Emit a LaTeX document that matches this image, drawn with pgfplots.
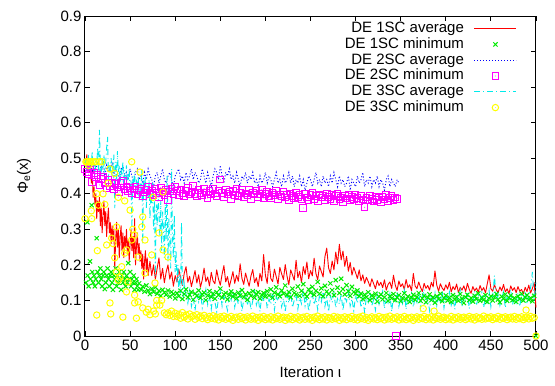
\documentclass[border=0pt]{standalone}
\usepackage{pgfplots}
\pgfplotsset{compat=1.18}
\usepackage{fontspec}
\setmainfont{Liberation Sans}
\definecolor{gpred}{RGB}{255,0,0}
\definecolor{gpgreen}{RGB}{0,235,0}
\definecolor{gpblue}{RGB}{0,0,255}
\definecolor{gpmag}{RGB}{255,0,255}
\definecolor{gpcyan}{RGB}{0,235,235}
\definecolor{gpyellow}{RGB}{255,255,0}
\pgfdeclareplotmark{odot}{%
  \pgfpathcircle{\pgfpointorigin}{\pgfplotmarksize}\pgfusepathqstroke
  \pgfpathcircle{\pgfpointorigin}{0.45pt}\pgfusepathqfill}
\pgfdeclareplotmark{sqdot}{%
  \pgfpathrectangle{\pgfpoint{-\pgfplotmarksize}{-\pgfplotmarksize}}{\pgfpoint{2\pgfplotmarksize}{2\pgfplotmarksize}}\pgfusepathqstroke
  \pgfpathcircle{\pgfpointorigin}{0.45pt}\pgfusepathqfill}
\pgfplotsset{mylegend/.style={legend image code/.code={\draw[mark repeat=2,mark phase=2,##1] plot coordinates {(0pt,0pt) (21pt,0pt) (42pt,0pt)};}}}
\begin{document}
\begin{tikzpicture}[font=\fontsize{15}{17}\selectfont]
\useasboundingbox (-85pt,-50pt) rectangle (470pt,336pt);
\begin{axis}[
  at={(0pt,0pt)}, anchor=south west,
  scale only axis, width=451pt, height=320pt,
  xmin=0, xmax=500, ymin=0, ymax=0.9,
  xtick={0,50,100,150,200,250,300,350,400,450,500},
  ytick={0,0.1,0.2,0.3,0.4,0.5,0.6,0.7,0.8,0.9},
  yticklabel style={/pgf/number format/fixed,/pgf/number format/precision=1},
  /pgf/number format/assume math mode=true,
  tick align=inside, major tick length=5pt,
  every tick/.style={black, line width=0.8pt},
  axis line style={black, line width=1pt},
  clip=false,
  xlabel={Iteration ι},
  xlabel style={at={(axis description cs:0.5,-0.1125)}, anchor=center},
  ylabel={Φ\textsubscript{e}(x)},
  ylabel style={at={(axis description cs:-0.135,0.5)}, anchor=center},
  legend cell align=right, legend plot pos=right,
  legend style={at={(0.958,0.986)}, anchor=north east, draw=none, fill=none,
    inner sep=0pt, column sep=9pt, row sep=0pt,
    nodes={inner sep=1pt, text height=10.8pt, text depth=3pt},
    font=\fontsize{15}{16}\selectfont},
]
% DE 1SC average
\addplot[color=gpred, line width=0.9pt, line join=round, mylegend] coordinates {
(0,0.50) (1,0.48) (2,0.51) (3,0.47) (4,0.50) (5,0.46) (6,0.49) (7,0.43) (8,0.47) (9,0.39)
(10,0.42) (11,0.37) (12,0.40) (13,0.33) (14,0.38) (15,0.35) (16,0.39) (17,0.31) (18,0.36) (19,0.29)
(20,0.34) (21,0.38) (22,0.31) (23,0.35) (24,0.28) (25,0.33) (26,0.36) (27,0.29) (28,0.32) (29,0.26)
(30,0.31) (31,0.27) (32,0.30) (33,0.19) (34,0.27) (35,0.32) (36,0.25) (37,0.30) (38,0.22) (39,0.28)
(40,0.31) (41,0.24) (42,0.29) (43,0.22) (44,0.28) (45,0.25) (46,0.30) (47,0.23) (48,0.27) (49,0.21)
(50,0.26) (51,0.30) (52,0.24) (53,0.28) (54,0.22) (55,0.33) (56,0.20) (57,0.25) (58,0.29) (59,0.23)
(60,0.26) (61,0.21) (62,0.24) (63,0.19) (64,0.23) (65,0.16) (66,0.21) (67,0.24) (68,0.18) (69,0.22)
(70,0.17) (72,0.21) (74,0.17) (76,0.20) (78,0.16) (80,0.19) (82,0.22) (84,0.16) (86,0.19) (88,0.15)
(90,0.18) (92,0.20) (94,0.16) (96,0.18) (98,0.14)
(100,.170) (102,.152) (104,.188) (106,.163) (108,.142) (110,.176) (112,.195) (114,.151) (116,.168) (118,.139)
(120,.161) (122,.184) (124,.149) (126,.172) (128,.137) (130,.158) (132,.191) (134,.153) (136,.166) (138,.141)
(140,.179) (142,.155) (144,.147) (146,.186) (148,.160) (150,.143) (152,.174) (154,.198) (156,.152) (158,.167)
(160,.138) (162,.159) (164,.181) (166,.148) (168,.171) (170,.154) (172,.203) (174,.162) (176,.145) (178,.177)
(180,.158) (182,.140) (184,.169) (186,.187) (188,.150) (190,.164) (192,.139) (194,.176) (196,.155) (198,.229)
(200,.171) (202,.148) (204,.210) (206,.162) (208,.153) (210,.188) (212,.167) (214,.146) (216,.193) (218,.175)
(220,.159) (222,.201) (224,.168) (226,.144) (228,.186) (230,.172) (232,.157) (234,.213) (236,.164) (238,.182)
(240,.150) (242,.195) (244,.173) (246,.208) (248,.161) (250,.184) (252,.169) (254,.219) (256,.176) (258,.158)
(260,.197) (262,.181) (264,.166) (266,.223) (268,.247) (270,.192) (272,.176) (274,.211) (276,.186) (278,.236)
(280,.203) (282,.258) (284,.214) (286,.239) (288,.196) (290,.224) (292,.182) (294,.207) (296,.171) (298,.193)
(300,.178) (302,.162) (304,.186) (306,.155) (308,.172) (310,.148) (312,.165) (314,.153) (316,.139) (318,.161)
(320,.147) (322,.133) (324,.156) (326,.142) (328,.151) (330,.136) (332,.158) (334,.129) (336,.145) (338,.152)
(340,.134) (342,.171) (344,.143) (346,.128) (348,.155) (350,.139) (352,.147) (354,.131) (356,.159) (358,.136)
(360,.144) (362,.127) (364,.176) (366,.141) (368,.133) (370,.152) (372,.137) (374,.125) (376,.148) (378,.134)
(380,.142) (382,.129) (384,.151) (386,.138) (388,.183) (390,.143) (392,.126) (394,.147) (396,.135) (398,.128)
(400,.144) (402,.132) (404,.151) (406,.124) (408,.139) (410,.130) (412,.146) (414,.122) (416,.137) (418,.129)
(420,.141) (422,.125) (424,.148) (426,.131) (428,.120) (430,.139) (432,.127) (434,.135) (436,.123) (438,.142)
(440,.128) (442,.136) (444,.121) (446,.147) (448,.172) (450,.133) (452,.126) (454,.144) (456,.130) (458,.122)
(460,.138) (462,.127) (464,.145) (466,.124) (468,.133) (470,.119) (472,.141) (474,.128) (476,.136) (478,.122)
(480,.139) (482,.126) (484,.131) (486,.118) (488,.137) (490,.125) (492,.143) (494,.121) (496,.134) (498,.150)
(500,.080)
};
\addlegendentry{DE 1SC average}
% DE 1SC minimum
\addplot[only marks, color=gpgreen, mark=x, mark size=3pt, mark options={line width=1pt}, mylegend] coordinates {
(1,0.15) (2.6,0.32) (3,0.17) (4,0.14) (5.5,0.21) (6,0.16) (7.4,0.368) (8,0.18) (9,0.15) (10,0.17)
(11,0.14) (12,0.16) (13,0.275) (14,0.18) (15,0.15) (16,0.17) (17,0.19) (18,0.16) (19,0.14) (20,0.17)
(21,0.18) (22,0.132) (23,0.15) (24,0.17) (25,0.19) (26,0.16) (27,0.14) (28,0.17) (29,0.18) (30,0.15)
(31,0.13) (32,0.17) (33,0.16) (34,0.19) (35,0.14) (36,0.17) (37,0.15) (38,0.18) (39,0.16) (40,0.13)
(41,0.17) (42,0.15) (43,0.18) (44,0.16) (45,0.14) (46,0.17) (47,0.15) (48,0.205) (49,0.16) (50,0.18)
(51,0.14) (52,0.16) (53,0.15) (54,0.17) (55,0.13) (56,0.15) (57,0.16) (58,0.14) (59,0.13)
(60,.148) (62,.131) (64,.139) (66,.125) (68,.142) (70,.128) (72,.118) (74,.133) (76,.124) (78,.137)
(80,.119) (82,.127) (84,.113) (86,.130) (88,.122) (90,.116) (92,.128) (94,.111) (96,.124) (98,.118)
(100,.106) (102,.121) (104,.112) (106,.127) (108,.104) (110,.118) (112,.131) (114,.109) (116,.116) (118,.124)
(120,.102) (122,.119) (124,.113) (126,.128) (128,.107) (130,.117) (132,.122) (134,.101) (136,.114) (138,.126)
(140,.110) (142,.119) (144,.105) (146,.123) (148,.115) (150,.133) (152,.108) (154,.117) (156,.121) (158,.103)
(160,.116) (162,.125) (164,.111) (166,.118) (168,.106) (170,.122) (172,.114) (174,.129) (176,.109) (178,.117)
(180,.102) (182,.120) (184,.113) (186,.126) (188,.108) (190,.118) (192,.123) (194,.105) (196,.116) (198,.121)
(200,.111) (202,.126) (204,.114) (206,.131) (208,.108) (210,.122) (212,.137) (214,.117) (216,.112) (218,.128)
(220,.119) (222,.142) (224,.115) (226,.124) (228,.109) (230,.133) (232,.121) (234,.117) (236,.139) (238,.113)
(240,.127) (242,.146) (244,.118) (246,.111) (248,.131) (250,.122) (252,.138) (254,.116) (256,.127) (258,.152)
(260,.119) (262,.134) (264,.112) (266,.141) (268,.125) (270,.118) (272,.148) (274,.129) (276,.115) (278,.157)
(280,.136) (282,.121) (284,.161) (286,.132) (288,.117) (290,.143) (292,.126) (294,.113) (296,.138) (298,.124)
(300,.119) (302,.128) (304,.112) (306,.119) (308,.104) (310,.116) (312,.109) (314,.123) (316,.101) (318,.114)
(320,.108) (322,.119) (324,.097) (326,.111) (328,.117) (330,.103) (332,.109) (334,.121) (336,.099) (338,.112)
(340,.106) (342,.118) (344,.101) (346,.109) (348,.115) (350,.098) (352,.107) (354,.120) (356,.103) (358,.111)
(360,.096) (362,.108) (364,.116) (366,.102) (368,.110) (370,.121) (372,.099) (374,.106) (376,.113) (378,.095)
(380,.108) (382,.117) (384,.101) (386,.109) (388,.094) (390,.112) (392,.104) (394,.119) (396,.098) (398,.107)
(400,.114) (402,.100) (404,.108) (406,.096) (408,.115) (410,.103) (412,.110) (414,.099) (416,.118) (418,.105)
(420,.093) (422,.109) (424,.116) (426,.101) (428,.107) (430,.097) (432,.113) (434,.104) (436,.120) (438,.099)
(440,.108) (442,.102) (444,.115) (446,.096) (448,.106) (450,.112) (452,.100) (454,.109) (456,.118) (458,.103)
(460,.095) (462,.111) (464,.105) (466,.117) (468,.099) (470,.108) (472,.114) (474,.101) (476,.107) (478,.096)
(480,.112) (482,.104) (484,.119) (486,.100) (488,.109) (490,.115) (492,.102) (494,.107) (496,.098) (498,.113)
(500,0)
};
\addlegendentry{DE 1SC minimum}
% DE 2SC average
\addplot[color=gpblue, line width=0.9pt, dash pattern=on 1pt off 2pt, mylegend] coordinates {
(0,.48) (2,.47) (4,.49) (6,.48) (8,.46) (10,.48) (12,.47) (14,.49) (16,.46) (18,.48)
(20,.47) (22,.45) (24,.48) (26,.46) (28,.47) (30,.49) (32,.45) (34,.47) (36,.46) (38,.44)
(40,.47) (42,.48) (44,.45) (46,.46) (48,.44) (50,.47) (52,.45) (54,.43) (56,.46) (58,.47)
(60,.44) (62,.45) (64,.43) (66,.46) (68,.44) (70,.47) (72,.45) (74,.44) (76,.42) (78,.45)
(80,.46) (82,.43) (84,.45) (86,.47) (88,.44) (90,.43) (92,.45) (94,.46) (96,.44) (98,.42)
(100,.45) (102,.46) (104,.47) (106,.44) (108,.45) (110,.43) (112,.46) (114,.44) (116,.45) (118,.47)
(120,.44) (122,.46) (124,.45) (126,.43) (128,.44) (130,.47) (132,.45) (134,.43) (136,.46) (138,.44)
(140,.42) (142,.45) (144,.47) (146,.46) (148,.44) (150,.48) (152,.45) (154,.43) (156,.46) (158,.45)
(160,.47) (162,.44) (164,.45) (166,.43) (168,.46) (170,.44) (172,.42) (174,.45) (176,.44) (178,.46)
(180,.43) (182,.45) (184,.44) (186,.46) (188,.43) (190,.44) (192,.42) (194,.45) (196,.43) (198,.44)
(200,.46) (202,.43) (204,.45) (206,.44) (208,.42) (210,.44) (212,.46) (214,.43) (216,.44) (218,.42)
(220,.45) (222,.43) (224,.44) (226,.46) (228,.43) (230,.45) (232,.42) (234,.44) (236,.43) (238,.45)
(240,.42) (242,.44) (244,.41) (246,.43) (248,.45) (250,.44) (252,.42) (254,.44) (256,.46) (258,.43)
(260,.44) (262,.42) (264,.45) (266,.43) (268,.44) (270,.42) (272,.45) (274,.43) (276,.46) (278,.44)
(280,.42) (282,.45) (284,.43) (286,.44) (288,.42) (290,.43) (292,.45) (294,.41) (296,.44) (298,.43)
(300,.42) (302,.45) (304,.43) (306,.44) (308,.46) (310,.42) (312,.44) (314,.43) (316,.45) (318,.42)
(320,.44) (322,.43) (324,.45) (326,.42) (328,.44) (330,.43) (332,.41) (334,.44) (336,.45) (338,.42)
(340,.44) (342,.43) (344,.42) (346,.44) (348,.43)
};
\addlegendentry{DE 2SC average}
% DE 2SC minimum
\addplot[only marks, color=gpmag, mark=sqdot, mark size=3.3pt, mark options={line width=1pt}, mylegend] coordinates {
(0,.470) (2,.462) (4,.455) (6,.468) (8,.433) (10,.458) (12,.447) (14,.452) (16,.425) (18,.441)
(20,.449) (22,.430) (24,.415) (26,.438) (28,.421) (30,.432) (32,.412) (34,.427) (36,.418) (38,.405)
(40,.430) (42,.436) (44,.412) (46,.420) (48,.408) (50,.416) (52,.402) (54,.412) (56,.421) (58,.398)
(60,.409) (62,.415) (64,.393) (66,.404) (68,.411) (70,.420) (72,.400) (74,.407) (76,.396) (78,.413)
(80,.402) (82,.389) (84,.418) (86,.405) (88,.397) (90,.410) (92,.383) (94,.406) (96,.414) (98,.399)
(100,.421) (102,.408) (104,.395) (106,.412) (108,.401) (110,.393) (112,.409) (114,.417) (116,.398) (118,.405)
(120,.422) (122,.400) (124,.392) (126,.411) (128,.403) (130,.396) (132,.415) (134,.404) (136,.388) (138,.407)
(140,.398) (142,.413) (144,.401) (146,.394) (148,.409) (150,.440) (152,.403) (154,.391) (156,.412) (158,.399)
(160,.405) (162,.386) (164,.408) (166,.397) (168,.414) (170,.393) (172,.402) (174,.410) (176,.389) (178,.401)
(180,.396) (182,.411) (184,.384) (186,.403) (188,.398) (190,.407) (192,.391) (194,.400) (196,.412) (198,.388)
(200,.399) (202,.405) (204,.392) (206,.387) (208,.403) (210,.396) (212,.409) (214,.385) (216,.398) (218,.392)
(220,.406) (222,.389) (224,.397) (226,.383) (228,.401) (230,.394) (232,.388) (234,.404) (236,.391) (238,.396)
(240,.385) (242,.360) (244,.399) (246,.390) (248,.382) (250,.397) (252,.402) (254,.386) (256,.393) (258,.379)
(260,.398) (262,.389) (264,.395) (266,.383) (268,.401) (270,.391) (272,.386) (274,.396) (276,.380) (278,.393)
(280,.399) (282,.384) (284,.390) (286,.376) (288,.394) (290,.387) (292,.398) (294,.382) (296,.391) (298,.385)
(300,.396) (302,.388) (304,.379) (306,.393) (308,.384) (310,.362) (312,.390) (314,.381) (316,.395) (318,.386)
(320,.378) (322,.392) (324,.383) (326,.389) (328,.375) (330,.391) (332,.384) (334,.396) (336,.380) (338,.388)
(340,.393) (342,.382) (344,.390) (346,.386) (345,0)
};
\addlegendentry{DE 2SC minimum}
% DE 3SC average
\addplot[color=gpcyan, line width=0.9pt, dash pattern=on 6pt off 3pt on 1pt off 3pt, mylegend] coordinates {
(0,0.48) (1,0.50) (2,0.47) (3,0.49) (4,0.51) (5,0.46) (6,0.50) (7,0.48) (8,0.52) (9,0.47)
(10,0.49) (11,0.45) (12,0.50) (13,0.48) (14,0.53) (15,0.46) (16,0.58) (17,0.49) (18,0.45) (19,0.50)
(20,0.47) (21,0.51) (22,0.46) (23,0.49) (24,0.53) (25,0.56) (26,0.44) (27,0.48) (28,0.46) (29,0.50)
(30,0.45) (31,0.48) (32,0.51) (33,0.36) (34,0.49) (35,0.44) (36,0.52) (37,0.46) (38,0.48) (39,0.43)
(40,0.47) (41,0.45) (42,0.49) (43,0.42) (44,0.46) (45,0.44) (46,0.48) (47,0.41) (48,0.45) (49,0.47)
(50,0.40) (51,0.44) (52,0.30) (53,0.45) (54,0.42) (55,0.46) (56,0.39) (57,0.44) (58,0.41) (59,0.45)
(60,0.38) (61,0.43) (62,0.40) (63,0.47) (64,0.26) (65,0.44) (66,0.41) (67,0.45) (68,0.36) (69,0.42)
(70,0.39) (71,0.44) (72,0.33) (73,0.40) (74,0.37) (75,0.43) (76,0.30) (77,0.38) (78,0.17) (79,0.37)
(80,0.31) (81,0.40) (82,0.34) (83,0.28) (84,0.38) (85,0.24) (86,0.35) (87,0.30) (88,0.22) (89,0.37)
(90,0.27) (91,0.45) (92,0.21) (93,0.33) (94,0.26) (95,0.19) (96,0.47) (97,0.28) (98,0.22) (99,0.34)
(100,0.18) (101,0.24) (102,0.15) (103,0.20) (104,0.13) (105,0.17) (106,0.12) (107,0.32) (108,0.14) (109,0.11)
(110,.150) (112,.118) (114,.092) (116,.127) (118,.083) (120,.108) (122,.071) (124,.115) (126,.096) (128,.124)
(130,.079) (132,.102) (134,.131) (136,.088) (138,.112) (140,.075) (142,.119) (144,.097) (146,.068) (148,.106)
(150,.125) (152,.084) (154,.113) (156,.093) (158,.072) (160,.118) (162,.101) (164,.128) (166,.081) (168,.109)
(170,.090) (172,.122) (174,.070) (176,.103) (178,.116) (180,.086) (182,.111) (184,.074) (186,.099) (188,.126)
(190,.087) (192,.107) (194,.069) (196,.114) (198,.095) (200,.121) (202,.078) (204,.104) (206,.089) (208,.127)
(210,.073) (212,.110) (214,.098) (216,.119) (218,.082) (220,.106) (222,.067) (224,.115) (226,.093) (228,.124)
(230,.080) (232,.101) (234,.117) (236,.076) (238,.108) (240,.091) (242,.129) (244,.085) (246,.112) (248,.070)
(250,.103) (252,.120) (254,.088) (256,.107) (258,.074) (260,.116) (262,.096) (264,.125) (266,.083) (268,.109)
(270,.068) (272,.113) (274,.094) (276,.122) (278,.079) (280,.105) (282,.090) (284,.118) (286,.072) (288,.110)
(290,.097) (292,.127) (294,.084) (296,.104) (298,.071) (300,.115) (302,.092) (304,.121) (306,.080) (308,.107)
(310,.066) (312,.111) (314,.095) (316,.124) (318,.086) (320,.102) (322,.073) (324,.117) (326,.089) (328,.108)
(330,.126) (332,.077) (334,.104) (336,.093) (338,.119) (340,.069) (342,.110) (344,.098) (346,.123) (348,.083)
(350,.106) (352,.091) (354,.128) (356,.075) (358,.112) (360,.097) (362,.120) (364,.081) (366,.109) (368,.094)
(370,.125) (372,.078) (374,.114) (376,.131) (378,.088) (380,.106) (382,.072) (384,.117) (386,.099) (388,.122)
(390,.085) (392,.110) (394,.092) (396,.127) (398,.079) (400,.113) (402,.101) (404,.124) (406,.087) (408,.108)
(410,.075) (412,.118) (414,.096) (416,.129) (418,.083) (420,.111) (422,.098) (424,.121) (426,.077) (428,.106)
(430,.093) (432,.126) (434,.085) (436,.114) (438,.100) (440,.123) (442,.080) (444,.109) (446,.095) (448,.128)
(450,.082) (452,.112) (454,.170) (456,.097) (458,.119) (460,.086) (462,.107) (464,.124) (466,.079) (468,.113)
(470,.099) (472,.130) (474,.088) (476,.110) (478,.094) (480,.121) (482,.083) (484,.115) (486,.101) (488,.126)
(490,.090) (492,.111) (494,.135) (496,.180) (498,.097) (500,.150)
};
\addlegendentry{DE 3SC average}
% DE 3SC minimum
\addplot[only marks, color=gpyellow, mark=odot, mark size=3.2pt, mark options={line width=1pt}, mylegend] coordinates {
(0,0.33) (1,0.49) (2,0.49) (3,0.49) (4,0.48) (5,0.49) (6,0.49) (7,0.352) (7.5,0.33) (8,0.49)
(10,0.49) (12,0.49) (13,0.059) (13,0.40) (13.7,0.24) (14.8,0.368) (16,0.49) (18.5,0.49) (20,0.40) (22,0.37)
(24,0.256) (25.6,0.43) (27.7,0.093) (27.7,0.47) (28.5,0.062) (29.6,0.275) (31,0.26) (33,0.22) (33,0.457) (35,0.307)
(35,0.18) (36.9,0.39) (36.9,0.157) (38.8,0.166) (40.7,0.195) (42,0.053) (44,0.233) (44,0.38) (46,0.242) (46,0.124)
(47.7,0.152) (50,0.354) (51.8,0.49) (51.8,0.27) (53,0.30) (55,0.284) (55,0.093) (55,0.115) (57,0.05) (58.8,0.222)
(59,0.096) (61,0.461) (63,0.307) (64,0.335) (64,0.079) (66.5,0.27) (66.5,0.177) (68,0.067) (70,0.075) (72,0.06)
(74,0.228) (75.4,0.39) (76,0.07) (77.6,0.149) (78,0.062) (79.5,0.10) (79.5,0.087) (82,0.29) (83,0.087) (85,0.10)
(86.5,0.242) (86.5,0.405) (88,0.065) (90,0.06) (92,0.222) (92,0.065) (94,0.058) (96,0.07) (98,0.055)
(100,.064) (102,.055) (104,.061) (106,.050) (108,.066) (110,.053) (112,.059) (114,.048) (116,.062) (118,.054)
(120,.057) (122,.047) (124,.060) (126,.052) (128,.056) (130,.049) (132,.058) (134,.051) (136,.046) (138,.055)
(140,.050) (142,.057) (144,.048) (146,.053) (148,.045) (150,.054) (152,.050) (154,.056) (156,.047) (158,.052)
(160,.049) (162,.055) (164,.044) (166,.051) (168,.053) (170,.047) (172,.055) (174,.049) (176,.052) (178,.045)
(180,.054) (182,.050) (184,.047) (186,.056) (188,.048) (190,.052) (192,.044) (194,.053) (196,.049) (198,.055)
(200,.046) (202,.051) (204,.048) (206,.054) (208,.045) (210,.052) (212,.049) (214,.056) (216,.047) (218,.050)
(220,.053) (222,.044) (224,.051) (226,.048) (228,.055) (230,.046) (232,.052) (234,.049) (236,.054) (238,.045)
(240,.050) (242,.053) (244,.047) (246,.055) (248,.048) (250,.051) (252,.044) (254,.053) (256,.049) (258,.056)
(260,.046) (262,.051) (264,.048) (266,.054) (268,.045) (270,.052) (272,.050) (274,.047) (276,.055) (278,.049)
(280,.053) (282,.044) (284,.051) (286,.048) (288,.054) (290,.046) (292,.052) (294,.049) (296,.055) (298,.047)
(300,.051) (302,.045) (304,.053) (306,.049) (308,.056) (310,.047) (312,.052) (314,.044) (316,.050) (318,.054)
(320,.048) (322,.051) (324,.046) (326,.055) (328,.049) (330,.052) (332,.045) (334,.053) (336,.048) (338,.056)
(340,.047) (342,.051) (344,.049) (346,.054) (348,.045) (350,.052) (352,.048) (354,.055) (356,.046) (358,.051)
(360,.049) (362,.053) (364,.044) (366,.050) (368,.054) (370,.047) (372,.052) (374,.049) (375,.077) (376,.055)
(378,.046) (380,.051) (382,.048) (384,.054) (386,.045) (387,.070) (388,.052) (390,.049) (392,.056) (394,.047)
(396,.051) (398,.053) (400,.046) (402,.050) (404,.048) (406,.055) (408,.045) (410,.052) (412,.049) (414,.054)
(416,.047) (418,.051) (420,.053) (422,.046) (424,.050) (426,.055) (428,.048) (430,.052) (432,.045) (434,.054)
(436,.049) (438,.051) (440,.047) (442,.056) (444,.048) (446,.052) (448,.050) (450,.054) (452,.046) (454,.051)
(456,.049) (458,.055) (460,.047) (462,.052) (464,.050) (466,.054) (468,.046) (470,.051) (472,.053) (474,.048)
(476,.055) (478,.047) (480,.052) (482,.049) (484,.054) (486,.046) (488,.051) (489,.073) (490,.053) (492,.048)
(494,.055) (496,.050) (498,.052) (500,0)
};
\addlegendentry{DE 3SC minimum}
\end{axis}
\end{tikzpicture}
\end{document}
